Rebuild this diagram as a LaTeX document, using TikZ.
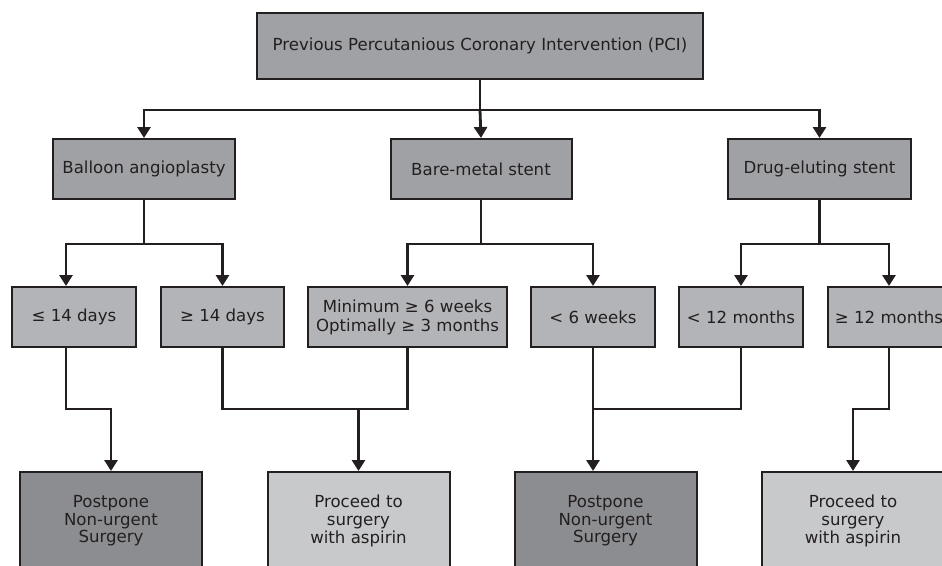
\documentclass[tikz,border=0pt]{standalone}
\usepackage{fontspec}
\setmainfont{DejaVu Sans}
\usetikzlibrary{arrows.meta}
\definecolor{ink}{HTML}{231F20}
\definecolor{midgray}{HTML}{A0A1A5}
\definecolor{lightgray}{HTML}{B3B4B7}
\definecolor{darkbox}{HTML}{8C8D91}
\definecolor{palebox}{HTML}{C8C9CB}
\tikzset{
  box/.style={draw=ink, line width=2pt, inner sep=0pt, align=center,
    text=ink, font=\fontsize{16.6}{17.6}\selectfont},
  lvlA/.style={box, fill=midgray, minimum height=60pt},
  lvlB/.style={box, fill=lightgray, minimum height=60pt},
  postbox/.style={box, fill=darkbox, minimum height=98pt, minimum width=182pt},
  probox/.style={box, fill=palebox, minimum height=98pt, minimum width=182pt},
  conn/.style={draw=ink, line width=2.8pt},
  arr/.style={conn, -{Triangle[width=13pt,length=11pt]}}
}
\begin{document}
\begin{tikzpicture}[x=1pt,y=-1pt]
\useasboundingbox (0,0) rectangle (942,565);
\clip (0,0) rectangle (942,565);
\node[box, fill=midgray, minimum width=446pt, minimum height=66pt] (top) at (480,46)
  {Previous Percutanious Coronary Intervention (PCI)};
\node[lvlA, minimum width=182pt] (balloon) at (144,169) {Balloon angioplasty};
\node[lvlA, minimum width=181pt] (bare) at (481,169) {Bare-metal stent};
\node[lvlA, minimum width=183pt] (drug) at (819.5,169) {Drug-eluting stent};
\node[lvlB, minimum width=124pt] (d1) at (74,317) {≤ 14 days};
\node[lvlB, minimum width=123pt] (d2) at (222.5,317) {≥ 14 days};
\node[lvlB, minimum width=199pt, font=\fontsize{16.6}{19}\selectfont] (mn) at (407.5,317) {Minimum ≥ 6 weeks\\Optimally ≥ 3 months};
\node[lvlB, minimum width=124pt] (w6) at (593,317) {< 6 weeks};
\node[lvlB, minimum width=124pt] (m12) at (741,317) {< 12 months};
\node[lvlB, minimum width=122pt] (m12b) at (889,317) {≥ 12 months};
\node[postbox] (p1) at (111,521) {Postpone\\Non-urgent\\Surgery};
\node[probox] (q1) at (358.5,521) {Proceed to\\surgery\\with aspirin};
\node[postbox] (p2) at (605.5,521) {Postpone\\Non-urgent\\Surgery};
\node[probox] (q2) at (853,521) {Proceed to\\surgery\\with aspirin};
% level 1 -> 2
\coordinate (j0) at (top.south |- 0,110);
\draw[conn] (top.south) -- (j0);
\draw[arr] (j0) -| (balloon.north);
\draw[arr] (j0) -- (bare.north);
\draw[arr] (j0) -| (drug.north);
% level 2 -> 3
\draw[conn] (balloon.south) -- ++(0,44) coordinate (jb);
\draw[arr] (jb) -| ([xshift=-8pt]d1.north);
\draw[arr] (jb) -| (d2.north);
\draw[conn] (bare.south) -- ++(0,44) coordinate (jm);
\draw[arr] (jm) -| (mn.north);
\draw[arr] (jm) -| (w6.north);
\draw[conn] (drug.south) -- ++(0,44) coordinate (jd);
\draw[arr] (jd) -| (m12.north);
\draw[arr] (jd) -| (m12b.north);
% level 3 -> 4
\draw[arr] ([xshift=-8pt]d1.south) -- ++(0,61) -| (p1.north);
\draw[conn] (d2.south) -- ++(0,61) coordinate (k1) -| (mn.south);
\draw[arr] (q1.north |- k1) -- (q1.north);
\draw[conn] (w6.south) -- ++(0,61) coordinate (k2) -| (m12.south);
\draw[arr] (k2) -- (k2 |- p2.north);
\draw[arr] (m12b.south) -- ++(0,61) -| (q2.north);
\end{tikzpicture}
\end{document}
